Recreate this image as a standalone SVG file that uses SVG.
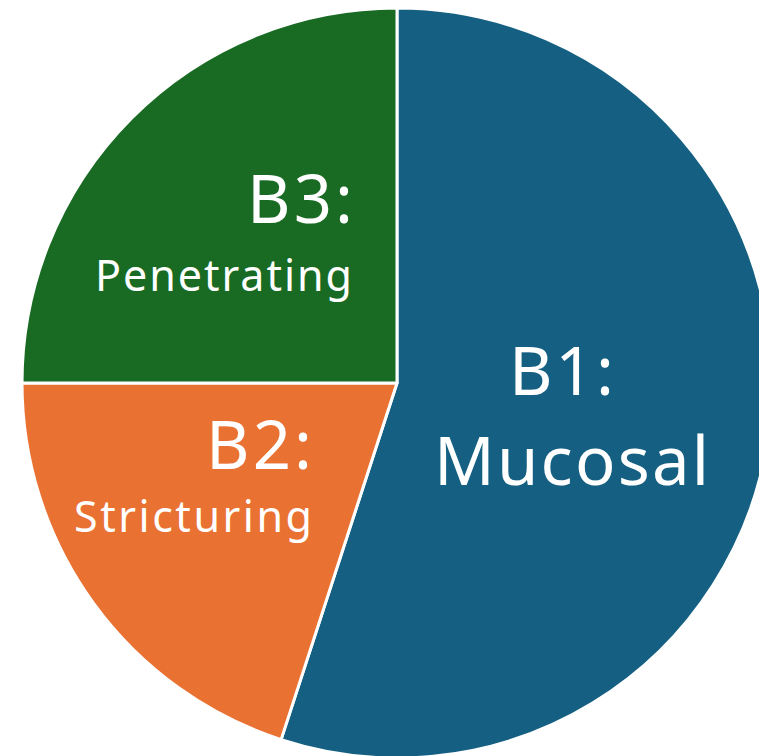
<svg xmlns="http://www.w3.org/2000/svg" width="759" height="756" viewBox="0 0 759 756">
  <style>
    .slice { stroke: #ffffff; stroke-width: 3; stroke-linejoin: round; }
    .lbl { fill: #ffffff; font-family: "Noto Sans", "Open Sans", "Liberation Sans", sans-serif; }
    .big { font-size: 67px; }
    .small { font-size: 43px; }
  </style>
  <rect x="0" y="0" width="759" height="756" fill="#ffffff"/>
  <g id="b1-mucosal">
    <path class="slice" fill="#156082" d="M397,383 L397,8 A375,375 0 1 1 281.1,739.6 Z"/>
    <text class="lbl big" x="509" y="395" textLength="105" lengthAdjust="spacing">B1:</text>
    <text class="lbl big" x="434" y="485" textLength="275" lengthAdjust="spacing">Mucosal</text>
  </g>
  <g id="b2-stricturing">
    <path class="slice" fill="#E97132" d="M397,383 L281.1,739.6 A375,375 0 0 1 22,383 Z"/>
    <text class="lbl big" x="206" y="469" textLength="106" lengthAdjust="spacing">B2:</text>
    <text class="lbl small" x="74" y="532" textLength="238" lengthAdjust="spacing">Stricturing</text>
  </g>
  <g id="b3-penetrating">
    <path class="slice" fill="#196B24" d="M397,383 L22,383 A375,375 0 0 1 397,8 Z"/>
    <text class="lbl big" x="247" y="223" textLength="106" lengthAdjust="spacing">B3:</text>
    <text class="lbl small" x="95" y="291" textLength="257" lengthAdjust="spacing">Penetrating</text>
  </g>
</svg>
